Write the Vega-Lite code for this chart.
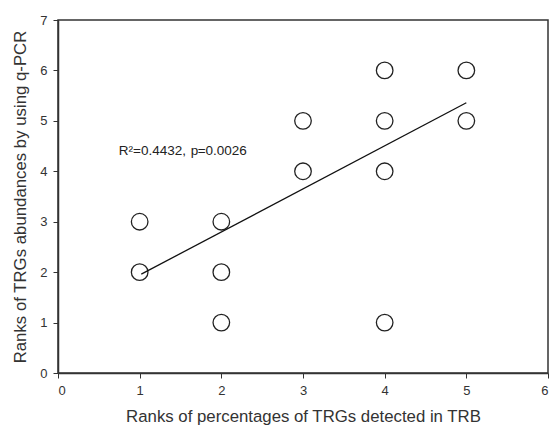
{
  "$schema": "https://vega.github.io/schema/vega-lite/v6.json",
  "width": 490,
  "height": 353,
  "autosize": "none",
  "padding": {"left": 58, "top": 20, "right": 3, "bottom": 56},
  "background": "white",
  "config": {
    "font": "Liberation Sans",
    "view": {"stroke": "#333", "strokeWidth": 1.5},
    "axis": {
      "grid": false,
      "domainColor": "#333",
      "domainWidth": 1.5,
      "tickColor": "#333",
      "tickSize": 5,
      "tickWidth": 1,
      "format": "d",
      "labelFont": "Liberation Sans",
      "labelFontSize": 13,
      "labelColor": "#333",
      "titleFont": "Liberation Sans",
      "titleFontWeight": "normal",
      "titleColor": "#333"
    }
  },
  "datasets": {
    "points": [
      {"x": 1, "y": 3}, {"x": 1, "y": 2},
      {"x": 2, "y": 3}, {"x": 2, "y": 2}, {"x": 2, "y": 1},
      {"x": 3, "y": 5}, {"x": 3, "y": 4},
      {"x": 4, "y": 6}, {"x": 4, "y": 5}, {"x": 4, "y": 4}, {"x": 4, "y": 1},
      {"x": 5, "y": 6}, {"x": 5, "y": 5}
    ],
    "fit": [{"x": 1.02, "y": 1.96}, {"x": 5.0, "y": 5.36}],
    "label": [
      {"x": 0.745, "y": 4.4, "t": "R²=0.4432, ", "style": "normal"},
      {"x": 1.625, "y": 4.4, "t": "p", "style": "italic"},
      {"x": 1.71, "y": 4.4, "t": "=0.0026", "style": "normal"}
    ]
  },
  "layer": [
    {
      "data": {"name": "points"},
      "mark": {"type": "point", "shape": "circle", "size": 275, "filled": false, "stroke": "#222", "strokeWidth": 1.3, "opacity": 1},
      "encoding": {
        "x": {"field": "x", "type": "quantitative", "scale": {"domain": [0, 6], "nice": false, "zero": true}, "axis": {"values": [0, 1, 2, 3, 4, 5, 6], "title": "Ranks of percentages of TRGs detected in TRB", "titleFontSize": 16.8, "titlePadding": 11, "labelPadding": 6}},
        "y": {"field": "y", "type": "quantitative", "scale": {"domain": [0, 7], "nice": false}, "axis": {"values": [0, 1, 2, 3, 4, 5, 6, 7], "title": "Ranks of TRGs abundances by using q-PCR", "titleFontSize": 16.8, "titlePadding": 10, "labelPadding": 6}}
      }
    },
    {
      "data": {"name": "fit"},
      "mark": {"type": "line", "color": "#111", "strokeWidth": 1.3},
      "encoding": {
        "x": {"field": "x", "type": "quantitative"},
        "y": {"field": "y", "type": "quantitative"}
      }
    },
    {
      "data": {"name": "label"},
      "mark": {"type": "text", "align": "left", "baseline": "middle", "fontSize": 13.5, "color": "#222"},
      "encoding": {
        "x": {"field": "x", "type": "quantitative"},
        "y": {"field": "y", "type": "quantitative"},
        "text": {"field": "t"},
        "fontStyle": {"field": "style", "type": "nominal", "scale": null}
      }
    }
  ]
}
